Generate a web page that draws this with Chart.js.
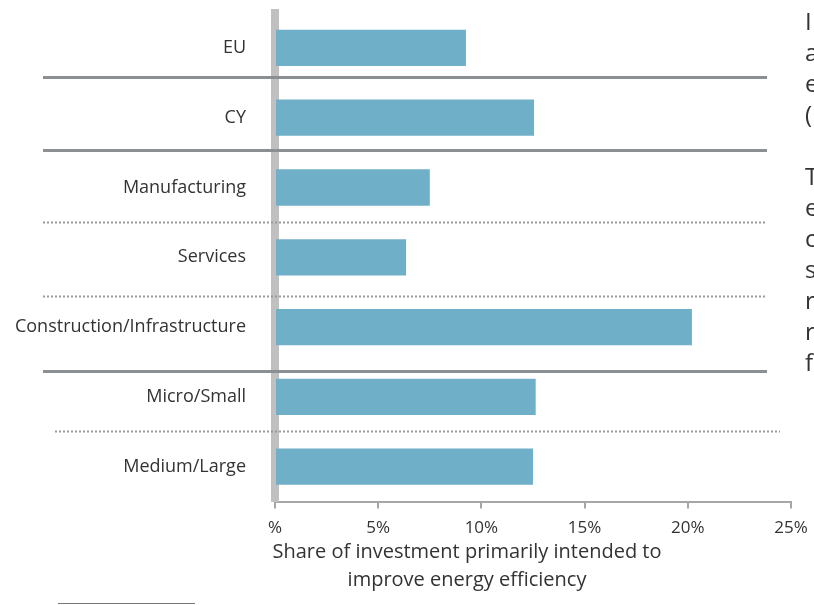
<!DOCTYPE html>
<html>
<head>
<meta charset="utf-8">
<script src="https://cdn.jsdelivr.net/npm/chart.js@4.4.1/dist/chart.umd.min.js"></script>
<style>
  html, body { margin: 0; padding: 0; background: #fff; overflow: hidden; }
  #wrap { position: relative; width: 814px; height: 605px; overflow: hidden; }
  #side { position: absolute; left: 805px; top: 5px; font-family: "Open Sans", sans-serif; font-size: 24px; line-height: 31px; color: #333; white-space: nowrap; }
  #side p { margin: 0 0 31px 0; }
  #foot { position: absolute; left: 58px; top: 603px; width: 137px; height: 1px; background: #777; }
</style>
</head>
<body>
<div id="wrap">
  <canvas id="chart" width="814" height="605"></canvas>
  <div id="side">
    <p>I<br>a<br>e<br>(</p>
    <p>T<br>e<br>c<br>s<br>r<br>r<br>f</p>
  </div>
  <div id="foot"></div>
</div>
<script>
// categories and values
var categories = ['EU', 'CY', 'Manufacturing', 'Services', 'Construction/Infrastructure', 'Micro/Small', 'Medium/Large'];
var shareValues = [9.25, 12.55, 7.5, 6.35, 20.2, 12.63, 12.5];
var xTickMax = 25;
var xTickStep = 5;
var axisTitle = ['Share of investment primarily intended to', 'improve energy efficiency'];

var fontName = '"Open Sans", sans-serif';

// separators between groups, drawn on top of the chart
var separatorPlugin = {
    id: 'separators',
    afterDraw: function(chart, args, opts) {
        var ctx = chart.ctx;
        var yScale = chart.scales.y;
        ctx.save();
        for (var i = 0; i < opts.lines.length; i++) {
            var ln = opts.lines[i];
            var y = Math.round(yScale.getPixelForValue(ln.at));
            ctx.beginPath();
            if (ln.dotted) {
                ctx.strokeStyle = '#9a9a9a';
                ctx.lineWidth = 2;
                ctx.setLineDash([2, 2]);
            } else {
                ctx.strokeStyle = '#8b8f93';
                ctx.lineWidth = 3;
                ctx.setLineDash([]);
            }
            ctx.moveTo(ln.x0, y + 0.5);
            ctx.lineTo(ln.x1, y + 0.5);
            ctx.stroke();
        }
        ctx.restore();
    }
};

// x axis title, two centred lines
var titlePlugin = {
    id: 'xTitle',
    afterDraw: function(chart, args, opts) {
        var ctx = chart.ctx;
        ctx.save();
        ctx.fillStyle = '#333';
        ctx.font = '20px ' + fontName;
        ctx.textAlign = 'center';
        ctx.textBaseline = 'middle';
        for (var i = 0; i < opts.text.length; i++) {
            ctx.fillText(opts.text[i], opts.x, opts.y + i * 28);
        }
        ctx.restore();
    }
};

var chart = new Chart(document.getElementById('chart'), {
    type: 'bar',
    data: {
        labels: categories,
        datasets: [{
            data: shareValues,
            backgroundColor: '#70afc8',
            borderWidth: 0,
            categoryPercentage: 1,
            barPercentage: 0.52
        }]
    },
    options: {
        indexAxis: 'y',
        responsive: false,
        animation: false,
        layout: { padding: { top: 13, right: 23, bottom: 58, left: 0 } },
        plugins: {
            legend: { display: false },
            tooltip: { enabled: false },
            separators: {
                lines: [
                    { at: 0.41, dotted: false, x0: 43, x1: 767 },
                    { at: 1.46, dotted: false, x0: 43, x1: 767 },
                    { at: 2.50, dotted: true, x0: 43, x1: 767 },
                    { at: 3.55, dotted: true, x0: 43, x1: 767 },
                    { at: 4.63, dotted: false, x0: 43, x1: 767 },
                    { at: 5.49, dotted: true, x0: 55, x1: 780 }
                ]
            },
            xTitle: { text: axisTitle, x: 467, y: 552 }
        },
        scales: {
            x: {
                min: 0,
                max: xTickMax,
                ticks: {
                    stepSize: xTickStep,
                    color: '#333',
                    padding: 9,
                    font: { family: fontName, size: 17 },
                    callback: function(v) { return v === 0 ? '%' : v + '%'; }
                },
                grid: { drawOnChartArea: false, drawTicks: true, tickLength: 7, color: '#a6a6a6', lineWidth: 2 },
                border: { color: '#a6a6a6', width: 2 },
                afterFit: function(scale) {
                    scale.paddingLeft = 0;
                    scale.paddingRight = 0;
                }
            },
            y: {
                z: 1,
                ticks: {
                    color: '#333',
                    padding: 29,
                    font: { family: fontName, size: 18 }
                },
                grid: { display: false, drawTicks: false },
                border: { color: '#c0c0c0', width: 8 },
                afterFit: function(scale) {
                    scale.width = 275;
                    scale.paddingTop = 0;
                    scale.paddingBottom = 0;
                }
            }
        }
    },
    plugins: [separatorPlugin, titlePlugin]
});
</script>
</body>
</html>
